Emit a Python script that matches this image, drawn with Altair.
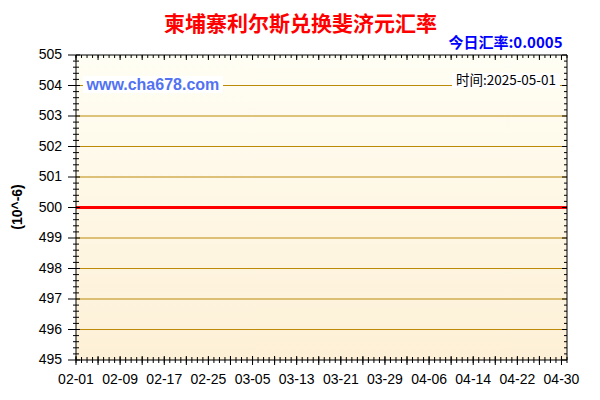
import altair as alt
import pandas as pd

# ---------------- data ----------------
dates = [d.strftime("%Y-%m-%d") for d in pd.date_range("2025-02-01", "2025-05-01", freq="D")]
rates = [
    500, 500, 500, 500, 500, 500, 500, 500, 500, 500, 500, 500, 500, 500, 500,
    500, 500, 500, 500, 500, 500, 500, 500, 500, 500, 500, 500, 500, 500, 500,
    500, 500, 500, 500, 500, 500, 500, 500, 500, 500, 500, 500, 500, 500, 500,
    500, 500, 500, 500, 500, 500, 500, 500, 500, 500, 500, 500, 500, 500, 500,
    500, 500, 500, 500, 500, 500, 500, 500, 500, 500, 500, 500, 500, 500, 500,
    500, 500, 500, 500, 500, 500, 500, 500, 500, 500, 500, 500, 500, 500, 500,
]
y_ticks = [495, 496, 497, 498, 499, 500, 501, 502, 503, 504, 505]
grid_vals = [496, 497, 498, 499, 501, 502, 503, 504]
x_label_dates = dates[::8]          # 02-01 ... 04-30
x_labels = [s[5:] for s in x_label_dates]
x_major_dates = dates[::4]
y_minor = [round(495 + 0.2 * i, 1) for i in range(1, 50) if i % 5 != 0]

title_text = "柬埔寨利尔斯兑换斐济元汇率"
rate_text = "今日汇率:0.0005"
site_text = "www.cha678.com"
time_text = "时间:2025-05-01"
y_title = "(10^-6)"

W, H = 491, 305

def dt(s):
    y, m, d = (int(p) for p in s.split("-"))
    return alt.DateTime(year=y, month=m, date=d, utc=True)

x_scale = alt.Scale(type="utc", domain=[dt(dates[0]), dt(dates[-1])])
y_scale = alt.Scale(domain=[495, 505], nice=False, zero=False)

line_df = pd.DataFrame({"date": dates, "rate": rates})
grid_df = pd.DataFrame({"v": grid_vals})
ymaj_df = pd.DataFrame({"v": y_ticks, "lab": [str(v) for v in y_ticks]})
ymin_df = pd.DataFrame({"v": y_minor})
xmin_df = pd.DataFrame({"date": dates})
xmaj_df = pd.DataFrame({"date": x_major_dates})
xlab_df = pd.DataFrame({"date": x_label_dates, "lab": x_labels})
one = pd.DataFrame({"k": [0]})

# ---------------- layers ----------------
bg = alt.Chart(one).mark_rect(
    color=alt.Gradient(
        gradient="linear",
        stops=[alt.GradientStop(color="#fffef4", offset=0),
               alt.GradientStop(color="#fdf0d6", offset=1)],
        x1=0, x2=0, y1=0, y2=1,
    )
).encode(x=alt.value(0), x2=alt.value(W), y=alt.value(0), y2=alt.value(H))

grid = alt.Chart(grid_df).mark_rule(color="#bb8a08", strokeWidth=1).encode(
    y=alt.Y("v:Q", scale=y_scale, axis=None)
)

line = alt.Chart(line_df).mark_line(color="#ff0000", strokeWidth=3).encode(
    x=alt.X("date:T", scale=x_scale, axis=None),
    y=alt.Y("rate:Q", scale=y_scale, axis=None),
)

def yrule(df, x0, x1):
    return alt.Chart(df).mark_rule(color="black", strokeWidth=1).encode(
        y=alt.Y("v:Q", scale=y_scale, axis=None), x=alt.value(x0), x2=alt.value(x1))

def xrule(df, y0, y1):
    return alt.Chart(df).mark_rule(color="black", strokeWidth=1).encode(
        x=alt.X("date:T", scale=x_scale, axis=None), y=alt.value(y0), y2=alt.value(y1))

ticks = [
    yrule(ymaj_df, -8, 4), yrule(ymaj_df, W - 5, W),
    yrule(ymin_df, -3, 3), yrule(ymin_df, W - 3, W),
    xrule(xmin_df, H - 3, H + 3), xrule(xmin_df, 0, 3),
    xrule(xmaj_df, H - 4, H + 5), xrule(xmaj_df, 0, 5),
]

ylabels = alt.Chart(ymaj_df).mark_text(
    font="Liberation Sans", fontSize=14, color="#000000", align="right", baseline="middle"
).encode(y=alt.Y("v:Q", scale=y_scale, axis=None), x=alt.value(-14), text=alt.Text("lab:N"))

xlabels = alt.Chart(xlab_df).mark_text(
    font="Liberation Sans", fontSize=14, color="#000000", align="center", baseline="middle"
).encode(x=alt.X("date:T", scale=x_scale, axis=None), y=alt.value(H + 19.5), text=alt.Text("lab:N"))

site_box = alt.Chart(one).mark_rect(color="white").encode(
    x=alt.value(7), x2=alt.value(147), y=alt.value(21), y2=alt.value(38))
time_box = alt.Chart(one).mark_rect(color="white").encode(
    x=alt.value(376), x2=alt.value(484), y=alt.value(18), y2=alt.value(33))

def label(txt, x, y, **kw):
    return alt.Chart(pd.DataFrame({"t": [txt]})).mark_text(**kw).encode(
        x=alt.value(x), y=alt.value(y), text=alt.Text("t:N"))

title = label(title_text, 224.5, -30, font="Noto Sans CJK SC", fontSize=21,
              fontWeight="bold", color="#ff0000", align="center", baseline="middle")
rate = label(rate_text, 486.5, -12.5, font="Noto Sans CJK SC", fontSize=15,
             fontWeight="bold", color="#0000ff", align="right", baseline="middle")
site = label(site_text, 10.5, 29.5, font="Liberation Sans", fontSize=16,
             fontWeight="bold", color="#5272f2", align="left", baseline="middle")
ttime = label(time_text, 480, 25.5, font="Noto Sans CJK SC", fontSize=13.5,
              color="#000000", align="right", baseline="middle")
ytitle = label(y_title, -58, 152, font="Liberation Sans", fontSize=14,
               fontWeight="bold", color="#000000", align="center",
               baseline="middle", angle=270)

frame = alt.Chart(one).mark_rect(fillOpacity=0, stroke="black", strokeWidth=1).encode(
    x=alt.value(0), x2=alt.value(W), y=alt.value(0), y2=alt.value(H))

chart = alt.layer(
    bg, grid, line, *ticks, ylabels, xlabels, site_box, time_box,
    title, rate, site, ttime, ytitle, frame
).properties(
    width=W, height=H,
    autosize=alt.AutoSizeParams(type="none"),
    padding={"left": 68, "top": 47, "right": 23, "bottom": 28},
    background="white",
).configure_view(strokeWidth=0)

chart.save("out.html", embed_options={"renderer": "svg", "actions": False})
